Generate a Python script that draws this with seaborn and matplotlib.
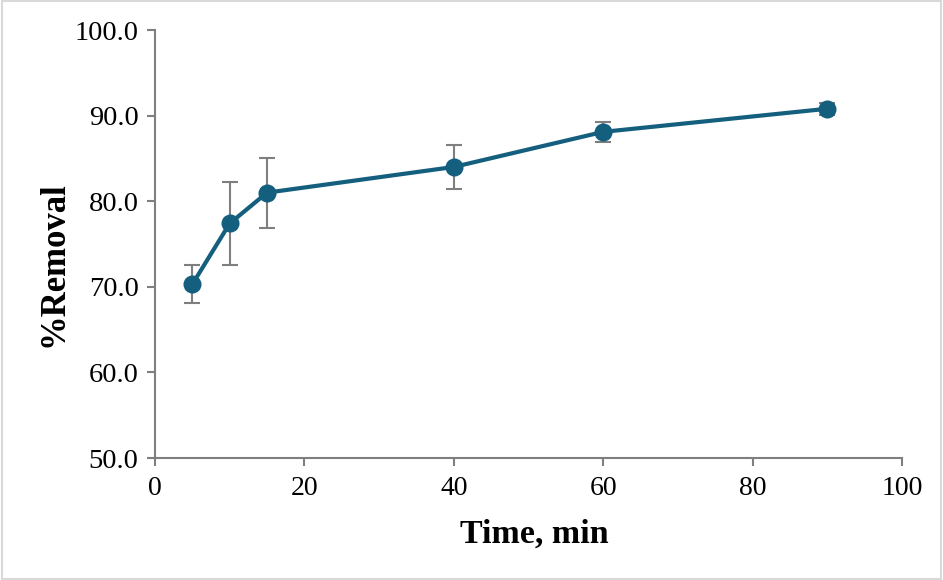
import matplotlib
matplotlib.use("Agg")
import matplotlib.pyplot as plt
import seaborn as sns
import pandas as pd

# datos
tiempo = [5, 10, 15, 40, 60, 90]
remocion = [70.3, 77.4, 81.0, 84.0, 88.1, 90.8]
error = [2.2, 4.8, 4.1, 2.6, 1.2, 0.7]

df = pd.DataFrame({"tiempo": tiempo, "remocion": remocion, "error": error})

sns.set_style("white")
plt.rcParams["font.family"] = "serif"
plt.rcParams["font.serif"] = ["Liberation Serif"]
plt.rcParams["text.color"] = "black"
plt.rcParams["axes.labelcolor"] = "black"
fuente = "Liberation Serif"

color = "#145F7E"
gris = "#7F7F7F"

fig = plt.figure(figsize=(9.43, 5.8), dpi=100)
ax = fig.add_axes([155 / 943, 1 - 458 / 580, (902 - 155) / 943, (458 - 30) / 580])

ax.errorbar(df["tiempo"], df["remocion"], yerr=df["error"], fmt="none",
            ecolor=gris, elinewidth=1.5, capsize=6, capthick=1.5, zorder=1)
sns.lineplot(data=df, x="tiempo", y="remocion", ax=ax, color=color, linewidth=3,
             marker="o", markersize=13, markeredgewidth=0, zorder=2)

ax.set_xlim(0, 100)
ax.set_ylim(50, 100)
ax.set_xticks(range(0, 101, 20))
ax.set_xticklabels([str(v) for v in range(0, 101, 20)], family=fuente, fontsize=20)
ax.set_yticks(range(50, 101, 10))
ax.set_yticklabels([f"{v:.1f}" for v in range(50, 101, 10)], family=fuente, fontsize=20.5)

for lado in ["top", "right"]:
    ax.spines[lado].set_visible(False)
for lado in ["left", "bottom"]:
    ax.spines[lado].set_color(gris)
    ax.spines[lado].set_linewidth(1.5)

ax.tick_params(axis="both", direction="out", length=5.8, width=1.5, color=gris,
               labelcolor="black", left=True, bottom=True)
ax.tick_params(axis="x", pad=7)
ax.tick_params(axis="y", pad=6)
ax.set_xlabel("Time, min", family=fuente, fontsize=24.5, fontweight="bold", labelpad=13)
ax.xaxis.label.set_x(0.508)
ax.set_ylabel("%Removal", family=fuente, fontsize=25, fontweight="bold", labelpad=3)
ax.yaxis.label.set_y(0.453)

# borde de la figura
fig.patches.append(plt.Rectangle((0.002, 0.002), 0.996, 0.996, transform=fig.transFigure,
                                 fill=False, edgecolor="#D9D9D9", linewidth=1.5))

fig.savefig("out.png", dpi=100)
